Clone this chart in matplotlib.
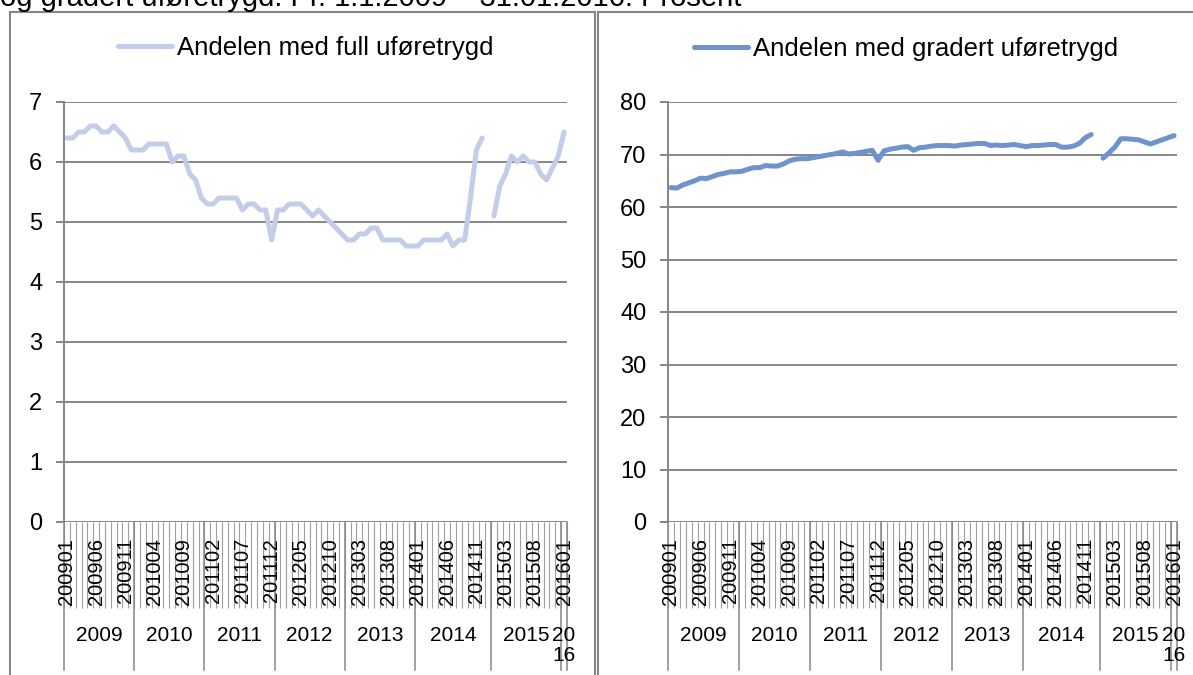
import numpy as np
import matplotlib.pyplot as plt
from matplotlib.patches import Rectangle
import matplotlib.transforms as mtransforms

plt.rcParams['font.family'] = ['Liberation Sans', 'DejaVu Sans']

W, H = 1193, 675
GRAY = '#868686'

# categories: monthly 200901..201601, with one empty category after 201412
months = ([f"{y}{m:02d}" for y in range(2009, 2015) for m in range(1, 13)] + [""]
          + [f"2015{m:02d}" for m in range(1, 13)] + ["201601"])
year_labels = ['2009', '2010', '2011', '2012', '2013', '2014', '2015', '20\n16']
year_sizes = [12, 12, 12, 12, 12, 13, 12, 1]

# share with full disability benefit (percent)
full = [6.4, 6.4, 6.5, 6.5, 6.6, 6.6, 6.5, 6.5, 6.6, 6.5, 6.4, 6.2,
        6.2, 6.2, 6.3, 6.3, 6.3, 6.3, 6.0, 6.1, 6.1, 5.8, 5.7, 5.4,
        5.3, 5.3, 5.4, 5.4, 5.4, 5.4, 5.2, 5.3, 5.3, 5.2, 5.2, 4.7,
        5.2, 5.2, 5.3, 5.3, 5.3, 5.2, 5.1, 5.2, 5.1, 5.0, 4.9, 4.8,
        4.7, 4.7, 4.8, 4.8, 4.9, 4.9, 4.7, 4.7, 4.7, 4.7, 4.6, 4.6,
        4.6, 4.7, 4.7, 4.7, 4.7, 4.8, 4.6, 4.7, 4.7, 5.4, 6.2, 6.4, None,
        5.1, 5.6, 5.8, 6.1, 6.0, 6.1, 6.0, 6.0, 5.8, 5.7, 5.9, 6.1,
        6.5]

# share with graded disability benefit (percent)
graded = [63.7, 63.6, 64.2, 64.6, 65.0, 65.5, 65.4, 65.8, 66.2, 66.4, 66.7, 66.7,
          66.8, 67.2, 67.5, 67.5, 67.9, 67.8, 67.8, 68.2, 68.8, 69.1, 69.2, 69.2,
          69.4, 69.6, 69.8, 70.0, 70.2, 70.5, 70.1, 70.2, 70.4, 70.6, 70.8, 68.9,
          70.7, 71.0, 71.2, 71.4, 71.5, 70.8, 71.3, 71.4, 71.6, 71.7, 71.7, 71.7,
          71.6, 71.8, 71.9, 72.0, 72.1, 72.1, 71.7, 71.8, 71.7, 71.8, 71.9, 71.7,
          71.5, 71.7, 71.7, 71.8, 71.9, 71.9, 71.4, 71.4, 71.6, 72.1, 73.2, 73.8, None,
          69.3, 70.3, 71.4, 73.0, 73.0, 72.9, 72.8, 72.4, 72.0, 72.4, 72.8, 73.2,
          73.6]


def fx(px):
    return px / W


def fy(py):
    return 1 - py / H


def draw_panel(fig, left, right, values, ymax, ystep, color, label, legend_xy):
    top, bottom = 102, 522
    ax = fig.add_axes([fx(left), fy(bottom), fx(right - left), (bottom - top) / H])
    n = len(months)
    x = np.arange(n)
    y = np.array([np.nan if v is None else v for v in values], dtype=float)
    line, = ax.plot(x, y, color=color, lw=3.6, solid_joinstyle='round',
                    solid_capstyle='round', label=label, clip_on=False)

    ax.set_xlim(-0.5, n - 0.5)
    ax.set_ylim(0, ymax)
    yt = np.arange(0, ymax + ystep, ystep)
    ax.set_yticks(yt)
    ax.set_yticklabels([f"{v:g}" for v in yt], fontsize=17)
    ax.tick_params(axis='y', length=5.5, width=1.4, color=GRAY, pad=10)
    ax.yaxis.grid(True, color=GRAY, lw=1.4)
    ax.set_axisbelow(True)
    for s in ['top', 'right', 'bottom']:
        ax.spines[s].set_visible(False)
    ax.spines['left'].set_color(GRAY)
    ax.spines['left'].set_linewidth(1.4)

    # category tick marks between each month
    ax.set_xticks(np.arange(-0.5, n, 1.0))
    ax.set_xticklabels([])
    ax.tick_params(axis='x', length=62, width=0.8, color='#A0A0A0')

    trans = mtransforms.blended_transform_factory(ax.transData, ax.transAxes)
    h = bottom - top
    # month labels (every 5th)
    for i in range(0, n, 5):
        ax.text(i, -16 / h, months[i], rotation=90, ha='center', va='top',
                fontsize=14.5, transform=trans)

    # year groups
    start = -0.5
    for ylab, size in zip(year_labels, year_sizes):
        end = start + size
        ax.plot([start, start], [0, -148 / h], color=GRAY, lw=1.1,
                transform=trans, clip_on=False)
        ax.text((start + end) / 2, -104 / h, ylab, ha='center', va='top',
                fontsize=15, linespacing=1.05, transform=trans)
        start = end
    ax.plot([start, start], [0, -148 / h], color=GRAY, lw=1.1,
            transform=trans, clip_on=False)

    ax.legend(handles=[line], loc='center', frameon=False, fontsize=18.5,
              handlelength=2.1, handletextpad=0.2,
              bbox_to_anchor=(fx(legend_xy[0]), fy(legend_xy[1])),
              bbox_transform=fig.transFigure)
    return ax


fig = plt.figure(figsize=(W / 100, H / 100), dpi=100)

# panel frames
fig.patches.append(Rectangle((fx(10), fy(700)), fx(595 - 10), (700 - 12) / H,
                             transform=fig.transFigure, fill=False,
                             edgecolor=GRAY, lw=1.5))
fig.patches.append(Rectangle((fx(598), fy(700)), fx(1210 - 598), (700 - 12) / H,
                             transform=fig.transFigure, fill=False,
                             edgecolor=GRAY, lw=1.5))

# title, cut off at the top edge like in the original
fig.text(0, fy(6), "og gradert uføretrygd. Pr. 1.1.2009 \u2013 31.01.2016. Prosent",
         fontsize=21, ha='left', va='baseline')

draw_panel(fig, 64, 567, full, 7, 1, '#C3CDE9', 'Andelen med full uføretrygd', (306, 48))
draw_panel(fig, 668, 1177, graded, 80, 10, '#6F93CD', 'Andelen med gradert uføretrygd', (906, 49))

fig.savefig('out.png', dpi=100)
